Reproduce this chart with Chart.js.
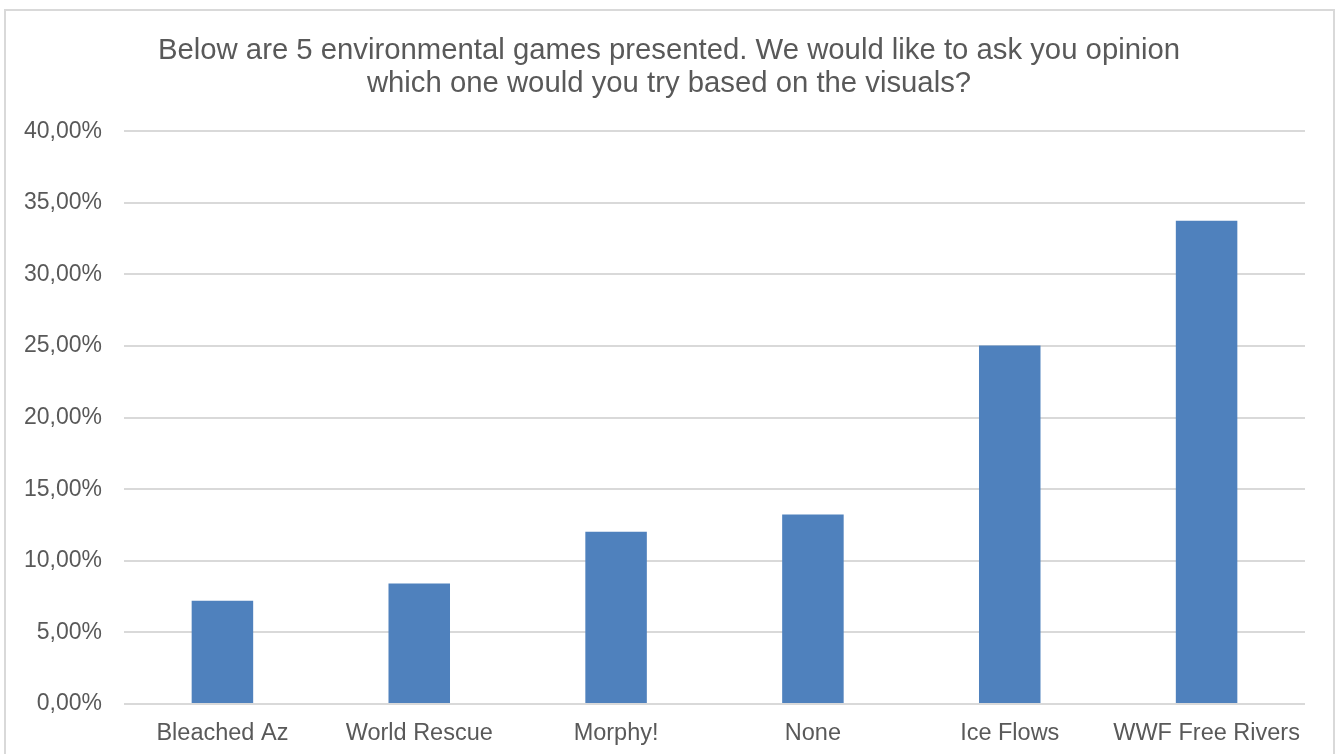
<!DOCTYPE html>
<html>
<head>
<meta charset="utf-8">
<script src="https://cdn.jsdelivr.net/npm/chart.js@4"></script>
<style>
  html, body { margin: 0; padding: 0; background: #fff; overflow: hidden; }
  .frame { position: absolute; left: 4px; top: 9px; width: 1327px; height: 800px; border: 2px solid #D9D9D9; }
  .wrap { position: absolute; left: 0; top: 0; width: 1337px; height: 754px; }
</style>
</head>
<body>
<div class="frame"></div>
<div class="wrap"><canvas id="gamesChart"></canvas></div>
<script>
const titleLines = [
    'Below are 5 environmental games presented. We would like to ask you opinion',
    'which one would you try based on the visuals?'
];
const games = ['Bleached Az', 'World Rescue', 'Morphy!', 'None', 'Ice Flows', 'WWF Free Rivers'];
const shares = [7.21, 8.41, 12.03, 13.23, 25.03, 33.75];
const yTicks = [0, 5, 10, 15, 20, 25, 30, 35, 40];

const textColor = '#595959';
const gridColor = '#D9D9D9';
const barColor = '#4F81BD';

// the original title sits a bit right of the canvas centre
const shiftTitle = {
    id: 'shiftTitle',
    afterLayout(chart) {
        if (chart.titleBlock) chart.titleBlock.left = 33;
    }
};

const gamesChart = () => {
    const ctx = document.getElementById('gamesChart');
    const data = {
        labels: games,
        datasets: [{
            data: shares,
            backgroundColor: barColor,
            borderWidth: 0,
            categoryPercentage: 1,
            barPercentage: 0.3125
        }]
    };
    const options = {
        responsive: false,
        animation: false,
        layout: { padding: { left: 0, right: 32, top: 0, bottom: 0 } },
        plugins: {
            legend: { display: false },
            tooltip: { enabled: false },
            title: {
                display: true,
                text: titleLines,
                color: textColor,
                font: { family: 'Liberation Sans, Arial, sans-serif', size: 29.3, weight: 'normal', lineHeight: 1.13 },
                padding: { top: 34, bottom: 31 }
            }
        },
        scales: {
            x: {
                grid: { display: false, drawTicks: false },
                border: { display: false },
                ticks: {
                    color: textColor,
                    padding: 15,
                    maxRotation: 0,
                    font: { family: 'Liberation Sans, Arial, sans-serif', size: 23.5 }
                },
                afterFit: (scale) => { scale.height = 50; }
            },
            y: {
                min: 0,
                max: 40,
                afterBuildTicks: (scale) => { scale.ticks = yTicks.map(v => ({ value: v })); },
                grid: { color: gridColor, lineWidth: 2, drawTicks: false },
                border: { display: false },
                ticks: {
                    color: textColor,
                    padding: 22,
                    font: { family: 'Liberation Sans, Arial, sans-serif', size: 23 },
                    callback: (v) => v.toFixed(2).replace('.', ',') + '%'
                },
                afterFit: (scale) => { scale.width = 124; }
            }
        }
    };
    new Chart(ctx, { type: 'bar', data, options, plugins: [shiftTitle] });
};

const canvas = document.getElementById('gamesChart');
canvas.width = 1337;
canvas.height = 754;
gamesChart();
</script>
</body>
</html>
